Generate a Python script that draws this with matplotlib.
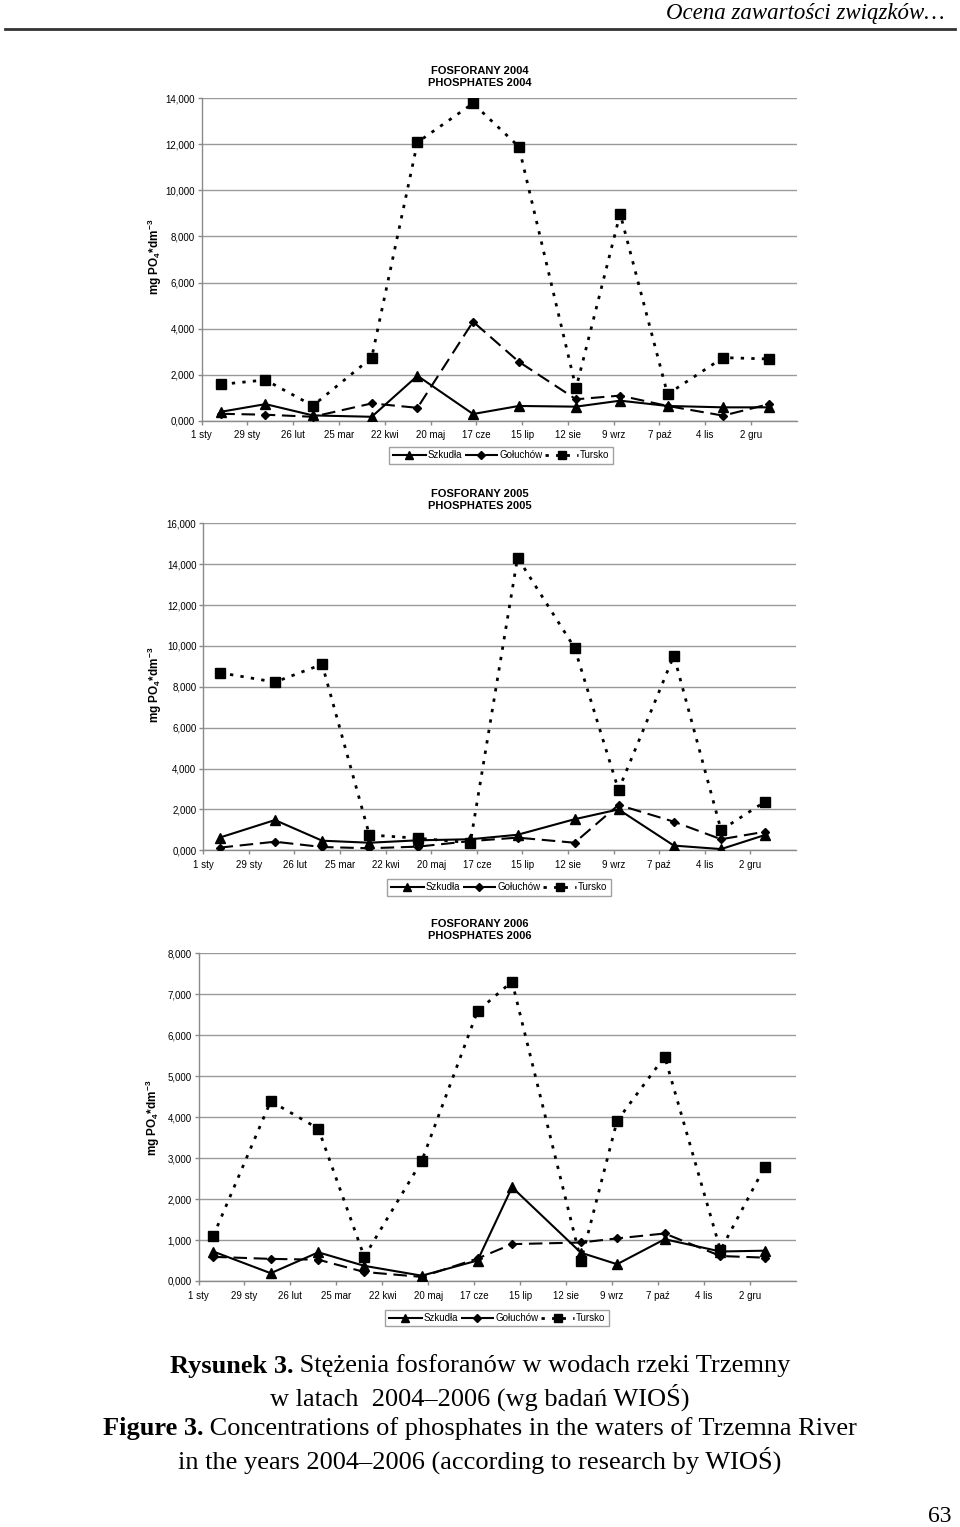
import matplotlib
matplotlib.use('Agg')
import matplotlib.pyplot as plt
from matplotlib.lines import Line2D
from matplotlib.ticker import FuncFormatter, MultipleLocator
import pandas as pd

W, H = 960, 1527
plt.rcParams['font.family'] = ['Liberation Sans', 'DejaVu Sans']
plt.rcParams['mathtext.fontset'] = 'custom'
plt.rcParams['mathtext.rm'] = 'Liberation Sans'
plt.rcParams['mathtext.bf'] = 'Liberation Sans:bold'
plt.rcParams['mathtext.it'] = 'Liberation Sans:italic'

# ---------------- data ----------------
tick_labels = ['1 sty', '29 sty', '26 lut', '25 mar', '22 kwi', '20 maj', '17 cze',
               '15 lip', '12 sie', '9 wrz', '7 paź', '4 lis', '2 gru']
series_names = ['Szkudła', 'Gołuchów', 'Tursko']

dates_2004 = ['2004-01-13', '2004-02-09', '2004-03-09', '2004-04-14', '2004-05-12', '2004-06-15',
              '2004-07-13', '2004-08-17', '2004-09-13', '2004-10-12', '2004-11-15', '2004-12-13']
szkudla_2004 = [0.39, 0.72, 0.23, 0.17, 1.95, 0.29, 0.64, 0.61, 0.87, 0.64, 0.58, 0.58]
goluchow_2004 = [0.30, 0.26, 0.17, 0.75, 0.56, 4.30, 2.56, 0.93, 1.09, 0.64, 0.22, 0.72]
tursko_2004 = [1.58, 1.77, 0.65, 2.74, 12.09, 13.78, 11.90, 1.41, 8.99, 1.15, 2.74, 2.68]

dates_2005 = ['2005-01-11', '2005-02-14', '2005-03-15', '2005-04-13', '2005-05-13', '2005-06-14',
              '2005-07-13', '2005-08-17', '2005-09-13', '2005-10-17', '2005-11-15', '2005-12-12']
szkudla_2005 = [0.62, 1.48, 0.47, 0.37, 0.49, 0.54, 0.76, 1.52, 2.00, 0.23, 0.06, 0.75]
goluchow_2005 = [0.13, 0.42, 0.16, 0.10, 0.18, 0.45, 0.62, 0.37, 2.22, 1.40, 0.54, 0.91]
tursko_2005 = [8.69, 8.23, 9.10, 0.75, 0.59, 0.37, 14.32, 9.91, 2.95, 9.52, 0.99, 2.38]

dates_2006 = ['2006-01-10', '2006-02-14', '2006-03-15', '2006-04-12', '2006-05-17', '2006-06-20',
              '2006-07-11', '2006-08-22', '2006-09-13', '2006-10-12', '2006-11-15', '2006-12-12']
szkudla_2006 = [0.72, 0.19, 0.70, 0.37, 0.13, 0.50, 2.29, 0.69, 0.41, 1.02, 0.72, 0.74]
goluchow_2006 = [0.59, 0.54, 0.52, 0.22, 0.10, 0.55, 0.90, 0.94, 1.04, 1.16, 0.61, 0.57]
tursko_2006 = [1.10, 4.39, 3.72, 0.59, 2.93, 6.59, 7.31, 0.49, 3.91, 5.48, 0.75, 2.79]

# ---------------- figure ----------------
fig = plt.figure(figsize=(W / 100, H / 100), dpi=100)
fig.patch.set_facecolor('white')


def rect(l, t, r, b):
    return [l / W, 1 - b / H, (r - l) / W, (b - t) / H]


def fx(x):
    return x / W


def fy(y):
    return 1 - y / H


styles = [
    dict(color='black', lw=1.5, ls='-', marker='^', ms=6.5),
    dict(color='black', lw=1.5, ls=(0, (6.5, 3.2)), marker='D', ms=4.5),
    dict(color='black', lw=2.0, ls=(0, (1.2, 2.6)), marker='s', ms=6.5),
]

panels = [
    dict(dates=dates_2004, vals=[szkudla_2004, goluchow_2004, tursko_2004], year='2004',
         ymax=14, ystep=2, box=(201.7, 98.3, 796.7, 420.7), title_y=77, ylab=(155, 257),
         leg=(501, 455.5)),
    dict(dates=dates_2005, vals=[szkudla_2005, goluchow_2005, tursko_2005], year='2005',
         ymax=16, ystep=2, box=(203.3, 523.3, 796, 850.3), title_y=500, ylab=(155, 685),
         leg=(499, 887.5)),
    dict(dates=dates_2006, vals=[szkudla_2006, goluchow_2006, tursko_2006], year='2006',
         ymax=8, ystep=1, box=(198.5, 953.3, 796, 1281), title_y=930, ylab=(153, 1118),
         leg=(497, 1318)),
]

fmt = FuncFormatter(lambda v, p: f'{v:.3f}'.replace('.', ','))

for p in panels:
    ax = fig.add_axes(rect(*p['box']))
    d = pd.to_datetime(pd.Series(p['dates']))
    x = (d - pd.Timestamp(p['year'] + '-01-01')).dt.days.to_numpy()
    handles = []
    for name, vals, st in zip(series_names, p['vals'], styles):
        h, = ax.plot(x, vals, label=name, markerfacecolor='black', markeredgecolor='black',
                     zorder=3, **st)
        handles.append(h)
    ax.set_xlim(0, 364)
    ax.set_ylim(0, p['ymax'])
    ax.set_xticks([28 * i for i in range(len(tick_labels))])
    ax.set_xticklabels(tick_labels)
    ax.yaxis.set_major_locator(MultipleLocator(p['ystep']))
    ax.yaxis.set_major_formatter(fmt)
    ax.grid(axis='y', color='#9a9a9a', lw=1.0)
    ax.set_axisbelow(True)
    for s in ['top', 'right']:
        ax.spines[s].set_visible(False)
    for s in ['left', 'bottom']:
        ax.spines[s].set_color('#8a8a8a')
        ax.spines[s].set_linewidth(1.0)
    ax.tick_params(axis='both', direction='out', length=3, color='#8a8a8a', width=1,
                   labelsize=7, labelcolor='black')
    ax.tick_params(axis='x', pad=4)
    ax.tick_params(axis='y', pad=2)
    ax.set_facecolor('white')

    fig.text(fx(480), fy(p['title_y']),
             f'FOSFORANY {p["year"]}\nPHOSPHATES {p["year"]}',
             ha='center', va='center', fontsize=8, fontweight='bold', linespacing=1.25)
    fig.text(fx(p['ylab'][0]), fy(p['ylab'][1]), r'$\mathbf{mg\ PO_4{*}dm^{-3}}$',
             rotation=90, ha='center', va='center', fontsize=8.5)

    leg = ax.legend(handles=handles, loc='center',
                    bbox_to_anchor=(fx(p['leg'][0]), fy(p['leg'][1])),
                    bbox_transform=fig.transFigure, ncol=3, frameon=True, fancybox=False,
                    fontsize=7, handlelength=3.4, handletextpad=0.15, columnspacing=0.3,
                    borderpad=0.35, markerscale=0.8, numpoints=1)
    leg.get_frame().set_edgecolor('#8a8a8a')
    leg.get_frame().set_linewidth(1.0)

# header
fig.text(fx(945), fy(13), 'Ocena zawartości związków…', ha='right', va='center',
         family='Liberation Serif', style='italic', fontsize=16.5)
fig.add_artist(Line2D([fx(5), fx(955)], [fy(29), fy(29)], color='#333333', lw=2))

# caption
renderer = fig.canvas.get_renderer()
cap_font = dict(family='Liberation Serif', fontsize=19, va='center')


def mixed_line(y, bold, regular, cx=480):
    t1 = fig.text(0, fy(y), bold, fontweight='bold', **cap_font)
    t2 = fig.text(0, fy(y), regular, **cap_font)
    w1 = t1.get_window_extent(renderer).width
    w2 = t2.get_window_extent(renderer).width
    x0 = cx - (w1 + w2) / 2
    t1.set_x(fx(x0))
    t2.set_x(fx(x0 + w1))


mixed_line(1366, 'Rysunek 3.', ' Stężenia fosforanów w wodach rzeki Trzemny')
fig.text(fx(480), fy(1397), 'w latach  2004–2006 (wg badań WIOŚ)', ha='center', **cap_font)
mixed_line(1429, 'Figure 3.', ' Concentrations of phosphates in the waters of Trzemna River')
fig.text(fx(480), fy(1460), 'in the years 2004–2006 (according to research by WIOŚ)',
         ha='center', **cap_font)

fig.text(fx(940), fy(1517), '63', ha='center', va='center', family='Liberation Serif',
         fontsize=17)

fig.savefig('out.png', dpi=100, facecolor='white')
